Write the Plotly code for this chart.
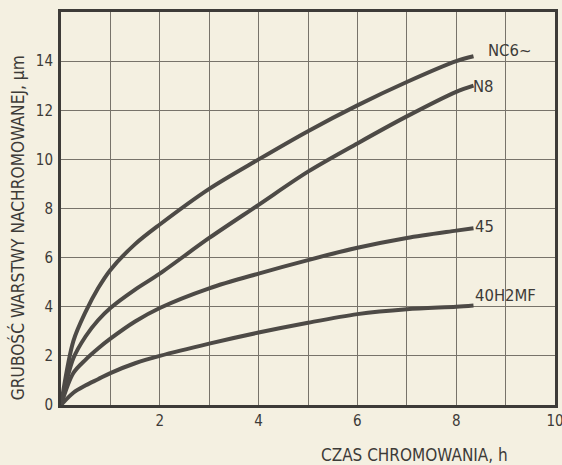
import plotly.graph_objects as go

# ---- data ----
hours = [0, 0.25, 0.5, 0.75, 1, 1.5, 2, 3, 4, 5, 6, 7, 8, 8.35]
nc6 = [0, 2.6, 3.8, 4.75, 5.5, 6.55, 7.35, 8.8, 10.0, 11.15, 12.2, 13.15, 14.0, 14.2]
n8 = [0, 1.9, 2.8, 3.45, 3.95, 4.7, 5.35, 6.8, 8.15, 9.5, 10.65, 11.75, 12.75, 13.0]
s45 = [0, 1.3, 1.85, 2.3, 2.7, 3.4, 3.95, 4.75, 5.35, 5.9, 6.4, 6.8, 7.1, 7.2]
h40 = [0, 0.5, 0.8, 1.05, 1.3, 1.7, 2.0, 2.5, 2.95, 3.35, 3.7, 3.9, 4.0, 4.05]
series_names = ["NC6~", "N8", "45", "40H2MF"]
label_pos = [(8.6, 14.45), (8.3, 12.95), (8.35, 7.25), (8.35, 4.45)]

x_tick_vals = [2, 4, 6, 8, 10]
x_tick_text = ["2", "4", "6", "8", "10"]
y_tick_vals = [0, 2, 4, 6, 8, 10, 12, 14]
y_tick_text = ["0", "2", "4", "6", "8", "10", "12", "14"]

x_title = "CZAS CHROMOWANIA, h"
y_title = "GRUBOŚĆ WARSTWY NACHROMOWANEJ, µm"

PAPER = "#f4f0e1"
INK = "#3d3b38"
LINE = "#4d4a46"
GRID = "#77736a"
FONT = "DejaVu Sans Condensed, DejaVu Sans, sans-serif"

fig = go.Figure()
for name, ys in zip(series_names, [nc6, n8, s45, h40]):
    fig.add_trace(go.Scatter(
        x=hours, y=ys, mode="lines", name=name,
        line=dict(color=LINE, width=4, shape="spline", smoothing=0.9),
        showlegend=False, hoverinfo="skip",
    ))

for name, (lx, ly) in zip(series_names, label_pos):
    fig.add_annotation(x=lx, y=ly, text=name, showarrow=False,
                       xanchor="left", yanchor="middle",
                       font=dict(family=FONT, size=16.5, color=INK))

fig.add_annotation(xref="paper", yref="paper", x=0.715, y=0, yshift=-50,
                   text=x_title, showarrow=False, xanchor="center", yanchor="middle",
                   font=dict(family=FONT, size=17, color=INK))
fig.add_annotation(xref="paper", yref="paper", x=0, xshift=-44, y=0.45,
                   text=y_title, textangle=-90, showarrow=False,
                   xanchor="center", yanchor="middle",
                   font=dict(family=FONT, size=17.2, color=INK))

fig.update_layout(
    width=562, height=465,
    margin=dict(l=61, r=7, t=12, b=60, autoexpand=False),
    paper_bgcolor=PAPER, plot_bgcolor=PAPER,
    font=dict(family=FONT, size=14, color=INK),
)
fig.update_xaxes(
    range=[0, 10], tickvals=x_tick_vals, ticktext=x_tick_text,
    showgrid=True, gridcolor=GRID, gridwidth=1,
    minor=dict(dtick=1, tick0=0, showgrid=True, gridcolor=GRID, gridwidth=1),
    showline=True, linecolor=INK, linewidth=2.5, mirror=True,
    ticks="", zeroline=False, tickfont=dict(size=15), automargin=False,
    ticklabeloverflow="allow",
)
fig.update_yaxes(
    range=[0, 16], tickvals=y_tick_vals, ticktext=y_tick_text,
    showgrid=True, gridcolor=GRID, gridwidth=1,
    showline=True, linecolor=INK, linewidth=3, mirror=True,
    ticks="", zeroline=False, ticklabelstandoff=2, tickfont=dict(size=15),
    automargin=False,
)

# let the 562x465 figure fill the window exactly (no default page margin)
fig.write_html(
    "out.html",
    config={"displayModeBar": False},
    post_script="document.body.style.margin='0';document.body.style.overflow='hidden';",
)
